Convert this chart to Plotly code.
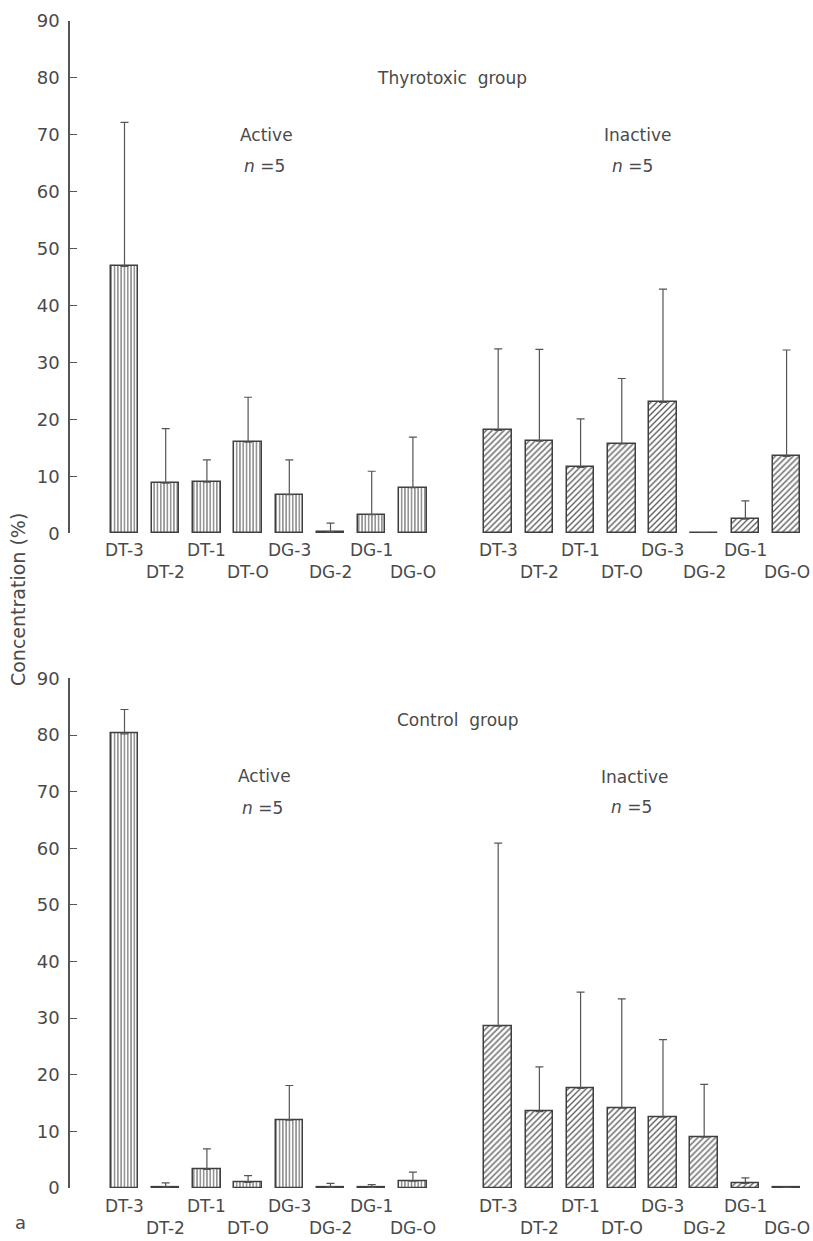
import plotly.graph_objects as go

# ---------------- data ----------------
categories = ["DT-3", "DT-2", "DT-1", "DT-O", "DG-3", "DG-2", "DG-1", "DG-O"]

thyro_active_mean = [46.9, 8.8, 9.0, 16.0, 6.8, 0.3, 3.3, 8.0]
thyro_active_upper = [72.2, 18.4, 12.9, 23.9, 12.9, 1.8, 10.9, 16.9]

thyro_inactive_mean = [18.1, 16.2, 11.6, 15.7, 23.0, 0.1, 2.5, 13.5]
thyro_inactive_upper = [32.4, 32.3, 20.1, 27.2, 42.9, None, 5.7, 32.2]

control_active_mean = [80.2, 0.2, 3.3, 1.0, 12.0, 0.2, 0.1, 1.2]
control_active_upper = [84.5, 0.9, 6.9, 2.2, 18.1, 0.8, 0.6, 2.8]

control_inactive_mean = [28.6, 13.5, 17.6, 14.1, 12.5, 9.0, 0.8, 0.1]
control_inactive_upper = [60.9, 21.4, 34.6, 33.4, 26.2, 18.3, 1.8, None]

y_ticks = [0, 10, 20, 30, 40, 50, 60, 70, 80, 90]

# ---------------- styling ----------------
FONT = "DejaVu Sans"
TXT = "#4a4a4a"
LINE = "#555555"
GROUP_GAP = 9.07

active_pos = [i for i in range(len(categories))]
inactive_pos = [i + GROUP_GAP for i in range(len(categories))]

fig = go.Figure()


def add_bars(pos, mean, upper, shape, xa, ya):
    plus = [(u - m) if u is not None else None for m, u in zip(mean, upper)]
    fig.add_trace(go.Bar(
        x=pos, y=mean, width=0.667,
        xaxis=xa, yaxis=ya,
        cliponaxis=False,
        showlegend=False,
        hoverinfo="skip",
        marker=dict(
            color="white",
            line=dict(color="#3f3f3f", width=1.5),
            pattern=dict(shape=shape, size=3.3 if shape == "|" else 4.2,
                         solidity=0.32, fgcolor="#5a5a5a", bgcolor="white",
                         fillmode="replace"),
        ),
        error_y=dict(type="data", symmetric=False, array=plus,
                     arrayminus=[0] * len(mean), color=LINE,
                     thickness=1.2, width=4),
    ))


add_bars(active_pos, thyro_active_mean, thyro_active_upper, "|", "x", "y")
add_bars(inactive_pos, thyro_inactive_mean, thyro_inactive_upper, "/", "x", "y")
add_bars(active_pos, control_active_mean, control_active_upper, "|", "x2", "y2")
add_bars(inactive_pos, control_inactive_mean, control_inactive_upper, "/", "x2", "y2")

annotations = []


def cat_labels(pos, xref, yref, shifts):
    for i, (p, c) in enumerate(zip(pos, categories)):
        annotations.append(dict(
            x=p, y=0, xref=xref, yref=yref, text=c, showarrow=False,
            yanchor="middle", xanchor="center", yshift=shifts[i % 2],
            font=dict(family=FONT, size=17, color=TXT)))


cat_labels(active_pos, "x", "y", (-17, -39))
cat_labels(inactive_pos, "x", "y", (-17, -39))
cat_labels(active_pos, "x2", "y2", (-18, -40))
cat_labels(inactive_pos, "x2", "y2", (-18, -40))


def text(x, y, s, xref, yref, size=17):
    annotations.append(dict(x=x, y=y, xref=xref, yref=yref, text=s,
                            showarrow=False, xanchor="center", yanchor="middle",
                            font=dict(family=FONT, size=size, color=TXT)))


text(7.95, 80, "Thyrotoxic  group", "x", "y")
text(3.45, 70, "Active", "x", "y")
text(3.40, 64.6, "<i>n</i> =5", "x", "y")
text(12.45, 70, "Inactive", "x", "y")
text(12.34, 64.6, "<i>n</i> =5", "x", "y")

text(8.1, 82.7, "Control  group", "x2", "y2")
text(3.41, 72.7, "Active", "x2", "y2")
text(3.36, 67.1, "<i>n</i> =5", "x2", "y2")
text(12.39, 72.6, "Inactive", "x2", "y2")
text(12.30, 67.3, "<i>n</i> =5", "x2", "y2")

W, H = 813, 1241
ML, MR, MT, MB = 70, 10, 15, 53
PW, PH = W - ML - MR, H - MT - MB

# y-axis title and panel letter, placed by pixel position converted to paper units
for px, py, s, ang, sz in [(18, 597, "Concentration (%)", -90, 19), (20.5, 1223, "a", 0, 18)]:
    annotations.append(dict(x=(px - ML) / PW, y=(H - MB - py) / PH, xref="paper", yref="paper",
                            text=s, showarrow=False, textangle=ang, xanchor="center",
                            yanchor="middle", font=dict(family=FONT, size=sz, color=TXT)))

spacing = 41.2
x0 = -(124.5 - ML) / spacing
x1 = x0 + PW / spacing

xaxis_common = dict(range=[x0, x1], visible=False, showgrid=False, zeroline=False)
yaxis_common = dict(range=[0, 90], tickvals=y_ticks, ticks="inside", ticklen=7,
                    tickwidth=1.3, tickcolor=LINE, showline=True, linecolor=LINE,
                    linewidth=1.5, showgrid=False, zeroline=False,
                    ticklabelstandoff=5,
                    tickfont=dict(family=FONT, size=18, color=TXT))

fig.update_layout(
    width=W, height=H,
    margin=dict(l=ML, r=MR, t=MT, b=MB),
    paper_bgcolor="white", plot_bgcolor="white",
    showlegend=False,
    hovermode=False,
    xaxis=dict(domain=[0, 1], anchor="y", **xaxis_common),
    yaxis=dict(domain=[0.561, 1.0], anchor="x", **yaxis_common),
    xaxis2=dict(domain=[0, 1], anchor="y2", **xaxis_common),
    yaxis2=dict(domain=[0.0, 0.4367], anchor="x2", **yaxis_common),
    annotations=annotations,
    bargap=0,
)

fig.write_html("out.html",
               config={"displayModeBar": False},
               post_script="document.body.style.margin='0';document.body.style.padding='0';")
